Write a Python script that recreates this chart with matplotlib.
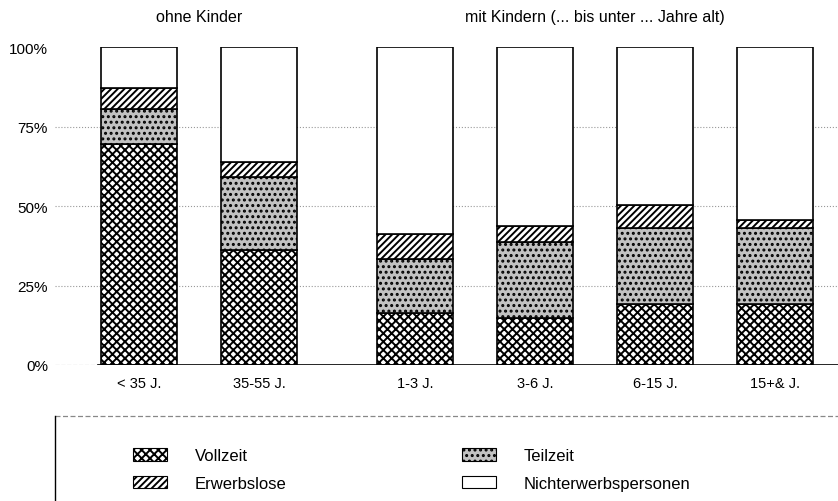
import matplotlib
matplotlib.use("Agg")
import matplotlib.pyplot as plt
from matplotlib.patches import Patch
from matplotlib.lines import Line2D
import matplotlib.transforms as mtransforms

plt.rcParams['font.family'] = ['Liberation Sans', 'DejaVu Sans']
plt.rcParams['hatch.linewidth'] = 1.4

# data (shares in %)
categories = ["< 35 J.", "35-55 J.", "1-3 J.", "3-6 J.", "6-15 J.", "15+& J."]
vollzeit = [69.5, 36.2, 16.3, 14.7, 19.2, 19.2]
teilzeit = [11.2, 22.8, 16.9, 23.9, 23.8, 23.9]
erwerbslose = [6.6, 4.9, 7.9, 5.0, 7.3, 2.6]
nichterwerb = [100 - v - t - e for v, t, e in zip(vollzeit, teilzeit, erwerbslose)]
group_titles = ["ohne Kinder", "mit Kindern (... bis unter ... Jahre alt)"]
yticks = [0, 25, 50, 75, 100]

xpos = [0, 1, 2.3, 3.3, 4.3, 5.3]
width = 0.63

fig = plt.figure(figsize=(8.38, 5.02), dpi=100)
ax = fig.add_axes([0.0656, 0.271, 0.9344, 0.633])

styles = [
    ("Vollzeit", vollzeit, dict(facecolor="white", hatch="xxxx")),
    ("Teilzeit", teilzeit, dict(facecolor="#c2c2c2", hatch="...")),
    ("Erwerbslose", erwerbslose, dict(facecolor="white", hatch="/////")),
    ("Nichterwerbspersonen", nichterwerb, dict(facecolor="white", hatch=None)),
]

bottom = [0] * len(categories)
for name, vals, st in styles:
    ax.bar(xpos, vals, width, bottom=bottom, edgecolor="black", linewidth=1.2,
           zorder=3, **st)
    bottom = [b + v for b, v in zip(bottom, vals)]

ax.set_xlim(-0.7, 5.825)
ax.set_ylim(0, 100)
ax.set_yticks(yticks)
ax.set_yticklabels([f"{t}%" for t in yticks], fontsize=11)
ax.set_xticks(xpos)
ax.set_xticklabels(categories, fontsize=10.5)
ax.tick_params(axis="both", length=0)
ax.tick_params(axis="x", pad=8)
ax.tick_params(axis="y", pad=5)
for s in ax.spines.values():
    s.set_visible(False)
for y in [25, 50, 75]:
    ax.axhline(y, color="#999999", linestyle=":", linewidth=0.8, zorder=1)
ax.axhline(0, xmin=0.055, color="black", linewidth=1.2, zorder=4)
ax.axhline(0, xmax=0.055, color="#888888", linestyle="--", linewidth=0.8, zorder=1)

trans = mtransforms.blended_transform_factory(ax.transData, fig.transFigure)
ax.text((xpos[0] + xpos[1]) / 2, 0.966, group_titles[0], transform=trans,
        ha="center", va="center", fontsize=11.5)
ax.text((xpos[2] + xpos[5]) / 2, 0.966, group_titles[1], transform=trans,
        ha="center", va="center", fontsize=11.5)

# legend box
handles = [Patch(facecolor=st["facecolor"], hatch=st["hatch"], edgecolor="black",
                 linewidth=0.8, label=name) for name, vals, st in styles]
order = [0, 2, 1, 3]
fig.legend([handles[i] for i in order], [styles[i][0] for i in order],
           ncol=2, frameon=False, fontsize=12, loc="upper left",
           bbox_to_anchor=(0.1587, 0.105), bbox_transform=fig.transFigure,
           handlelength=2.04, handleheight=0.78, handletextpad=1.68,
           columnspacing=10.5, labelspacing=0.75, borderpad=0, borderaxespad=0)
fig.add_artist(Line2D([0.0656, 1.0], [1 - 417 / 502, 1 - 417 / 502],
                      transform=fig.transFigure, color="#888888", linewidth=0.9,
                      linestyle=(0, (4, 2))))
fig.add_artist(Line2D([0.0656, 0.0656], [1 - 417 / 502, 0],
                      transform=fig.transFigure, color="black", linewidth=1.0))

fig.savefig("out.png", dpi=100)
